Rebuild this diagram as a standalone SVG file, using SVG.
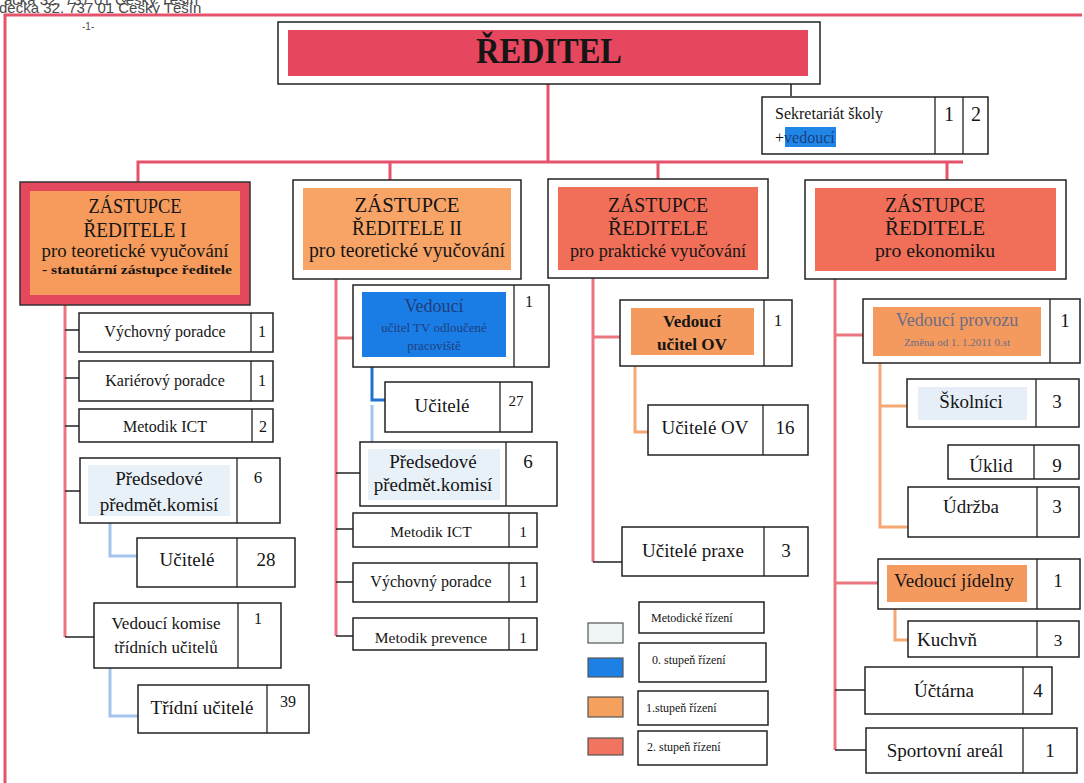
<svg xmlns="http://www.w3.org/2000/svg" width="1084" height="783" viewBox="0 0 1084 783">
<defs>
<style>
.t{font-family:"Liberation Serif","Times New Roman",serif;fill:#151515;text-anchor:middle}
.st{text-anchor:start}
.s{font-family:"Liberation Sans",Arial,sans-serif;fill:#4a4a4a}
.b{fill:#fff;stroke:#222;stroke-width:1.5}
.d{stroke:#222;stroke-width:1.3}
.red{fill:none;stroke:#e4536b;stroke-width:3}
.col{fill:none;stroke:#ec7680;stroke-width:3}
.blk{fill:none;stroke:#222;stroke-width:1.5}
.or{fill:none;stroke:#f5a873;stroke-width:3}
.lb{fill:none;stroke:#a3c5ec;stroke-width:3}
.db{fill:none;stroke:#2072d2;stroke-width:3}
.bt{fill:#1e3f7e}
.gt{fill:#6c6c86}
.n{font-size:17px}
.m{font-size:16px}
.l{font-size:19px}
</style>
</defs>
<rect width="1084" height="783" fill="#fff"/>
<text class="s" x="4" y="5" font-size="15">ačka 32, 737 01 Český Těšín</text>
<text class="s" x="-1" y="13" font-size="15">dečka 32. 737 01 Český Těšín</text>
<text class="s" x="82" y="30" font-size="10">-1-</text>

<g id="connectors">
<polyline class="red" points="5,783 5,15 1082,15"/>
<line class="red" x1="548" y1="84" x2="548" y2="162"/>
<polyline class="red" points="138,182 138,162 963,162"/>
<line class="red" x1="390" y1="162" x2="390" y2="180"/>
<line class="red" x1="658" y1="162" x2="658" y2="179"/>
<line class="red" x1="947" y1="162" x2="947" y2="180"/>
<line class="blk" x1="791" y1="84" x2="791" y2="96"/>
<line class="col" x1="65" y1="305" x2="65" y2="637"/>
<line class="blk" x1="65" y1="330" x2="79" y2="330"/>
<line class="blk" x1="65" y1="378" x2="79" y2="378"/>
<line class="blk" x1="65" y1="426" x2="79" y2="426"/>
<line class="blk" x1="65" y1="491" x2="80" y2="491"/>
<line class="blk" x1="65" y1="637" x2="94" y2="637"/>
<polyline class="lb" points="110,523 110,556 137,556"/>
<polyline class="lb" points="110,668 110,716 138,716"/>
<line class="col" x1="336" y1="279" x2="336" y2="636"/>
<line class="col" x1="336" y1="338" x2="353" y2="338"/>
<line class="blk" x1="336" y1="473" x2="360" y2="473"/>
<line class="blk" x1="336" y1="529" x2="353" y2="529"/>
<line class="blk" x1="336" y1="582" x2="353" y2="582"/>
<line class="blk" x1="336" y1="636" x2="353" y2="636"/>
<polyline class="db" points="372,367 372,400 385,400"/>
<line class="lb" x1="372" y1="405" x2="372" y2="442"/>
<line class="col" x1="593" y1="278" x2="593" y2="562"/>
<line class="col" x1="593" y1="337" x2="620" y2="337"/>
<line class="blk" x1="593" y1="562" x2="622" y2="562"/>
<polyline class="or" points="635,366 635,432 648,432"/>
<line class="col" x1="835" y1="279" x2="835" y2="750"/>
<line class="col" x1="835" y1="335" x2="863" y2="335"/>
<line class="col" x1="835" y1="583" x2="878" y2="583"/>
<line class="blk" x1="835" y1="690" x2="865" y2="690"/>
<line class="blk" x1="835" y1="750" x2="866" y2="750"/>
<polyline class="or" points="880,363 880,527 908,527"/>
<line class="or" x1="880" y1="406" x2="907" y2="406"/>
<polyline class="or" points="895,609 895,640 908,640"/>
</g>

<g id="reditel">
<rect class="b" x="278" y="22" width="542" height="62"/>
<rect x="288" y="30" width="520" height="46" fill="#e6475f"/>
<text class="t" x="549" y="63" font-size="35" font-weight="bold" textLength="146" lengthAdjust="spacingAndGlyphs">ŘEDITEL</text>
</g>

<g id="sekretariat">
<rect class="b" x="762" y="97" width="226" height="57"/>
<line class="d" x1="935" y1="97" x2="935" y2="154"/>
<line class="d" x1="963" y1="97" x2="963" y2="154"/>
<text class="t st" x="775" y="119" font-size="16">Sekretariát školy</text>
<rect x="785" y="127" width="51" height="20" fill="#1f86e8"/>
<text class="t st" x="775" y="143" font-size="16">+<tspan class="bt">vedoucí</tspan></text>
<text class="t" x="949" y="121" font-size="20">1</text>
<text class="t" x="976" y="121" font-size="20">2</text>
</g>

<g id="zastupce1">
<rect x="20" y="182" width="230" height="123" fill="#e3485c" stroke="#333" stroke-width="1.5"/>
<rect x="30" y="191" width="210" height="104" fill="#f69b5b"/>
<text class="t" x="135" y="213" font-size="21" textLength="93" lengthAdjust="spacingAndGlyphs">ZÁSTUPCE</text>
<text class="t" x="135" y="237" font-size="21" textLength="103" lengthAdjust="spacingAndGlyphs">ŘEDITELE I</text>
<text class="t" x="135" y="257" font-size="19" textLength="187" lengthAdjust="spacingAndGlyphs">pro teoretické vyučování</text>
<text class="t" x="137" y="274" font-size="13" font-weight="bold" textLength="190" lengthAdjust="spacingAndGlyphs">- statutární zástupce ředitele</text>
</g>

<g id="zastupce2">
<rect class="b" x="293" y="180" width="228" height="99"/>
<rect x="303" y="188" width="208" height="82" fill="#f8a466"/>
<text class="t" x="407" y="212" font-size="22" textLength="105" lengthAdjust="spacingAndGlyphs">ZÁSTUPCE</text>
<text class="t" x="407" y="235" font-size="22" textLength="110" lengthAdjust="spacingAndGlyphs">ŘEDITELE II</text>
<text class="t" x="407" y="257" font-size="20" textLength="196" lengthAdjust="spacingAndGlyphs">pro teoretické vyučování</text>
</g>

<g id="zastupce3">
<rect class="b" x="548" y="179" width="220" height="99"/>
<rect x="558" y="187" width="200" height="83" fill="#f16f58"/>
<text class="t" x="658" y="212" font-size="21" textLength="100" lengthAdjust="spacingAndGlyphs">ZÁSTUPCE</text>
<text class="t" x="658" y="235" font-size="21" textLength="100" lengthAdjust="spacingAndGlyphs">ŘEDITELE</text>
<text class="t" x="658" y="257" font-size="19" textLength="176" lengthAdjust="spacingAndGlyphs">pro praktické vyučování</text>
</g>

<g id="zastupce4">
<rect class="b" x="805" y="180" width="261" height="99"/>
<rect x="815" y="188" width="241" height="83" fill="#f16f58"/>
<text class="t" x="935" y="212" font-size="21" textLength="100" lengthAdjust="spacingAndGlyphs">ZÁSTUPCE</text>
<text class="t" x="935" y="235" font-size="21" textLength="100" lengthAdjust="spacingAndGlyphs">ŘEDITELE</text>
<text class="t" x="935" y="257" font-size="19" textLength="120" lengthAdjust="spacingAndGlyphs">pro ekonomiku</text>
</g>

<g id="c1-vychovny">
<rect class="b" x="79" y="313" width="194" height="39"/>
<line class="d" x1="251" y1="313" x2="251" y2="352"/>
<text class="t m" x="165" y="337">Výchovný poradce</text>
<text class="t m" x="262" y="337">1</text>
</g>
<g id="c1-karierovy">
<rect class="b" x="79" y="361" width="194" height="40"/>
<line class="d" x1="251" y1="361" x2="251" y2="401"/>
<text class="t m" x="165" y="386">Kariérový poradce</text>
<text class="t m" x="262" y="386">1</text>
</g>
<g id="c1-metodik">
<rect class="b" x="79" y="409" width="194" height="33"/>
<line class="d" x1="252" y1="409" x2="252" y2="442"/>
<text class="t m" x="165" y="432">Metodik ICT</text>
<text class="t m" x="263" y="432">2</text>
</g>
<g id="c1-predsedove">
<rect class="b" x="80" y="458" width="200" height="65"/>
<rect x="88" y="465" width="142" height="51" fill="#e8f1f8"/>
<line class="d" x1="237" y1="458" x2="237" y2="523"/>
<text class="t l" x="159" y="485">Předsedové</text>
<text class="t l" x="159" y="511">předmět.komisí</text>
<text class="t n" x="258" y="483">6</text>
</g>
<g id="c1-ucitele">
<rect class="b" x="137" y="538" width="158" height="49"/>
<line class="d" x1="237" y1="538" x2="237" y2="587"/>
<text class="t l" x="187" y="566">Učitelé</text>
<text class="t l" x="266" y="566">28</text>
</g>
<g id="c1-vedouci-komise">
<rect class="b" x="94" y="603" width="187" height="65"/>
<line class="d" x1="238" y1="603" x2="238" y2="668"/>
<text class="t n" x="166" y="629">Vedoucí komise</text>
<text class="t n" x="166" y="653">třídních učitelů</text>
<text class="t m" x="258" y="624">1</text>
</g>
<g id="c1-tridni">
<rect class="b" x="138" y="685" width="171" height="48"/>
<line class="d" x1="267" y1="685" x2="267" y2="733"/>
<text class="t" x="202" y="714" font-size="19">Třídní učitelé</text>
<text class="t m" x="288" y="707">39</text>
</g>

<g id="c2-vedouci">
<rect class="b" x="353" y="285" width="196" height="82"/>
<rect x="362" y="292" width="144" height="65" fill="#1a7de6"/>
<line class="d" x1="514" y1="285" x2="514" y2="367"/>
<text class="t bt" x="434" y="312" font-size="18">Vedoucí</text>
<text class="t bt" x="434" y="332" font-size="13">učitel TV odloučené</text>
<text class="t bt" x="434" y="350" font-size="13">pracoviště</text>
<text class="t m" x="529" y="307">1</text>
</g>
<g id="c2-ucitele">
<rect class="b" x="385" y="382" width="147" height="50"/>
<line class="d" x1="500" y1="382" x2="500" y2="432"/>
<text class="t l" x="442" y="412">Učitelé</text>
<text class="t" x="516" y="406" font-size="15">27</text>
</g>
<g id="c2-predsedove">
<rect class="b" x="360" y="442" width="197" height="64"/>
<rect x="368" y="449" width="132" height="51" fill="#e8f1f8"/>
<line class="d" x1="506" y1="442" x2="506" y2="506"/>
<text class="t l" x="433" y="468">Předsedové</text>
<text class="t l" x="433" y="491">předmět.komisí</text>
<text class="t l" x="528" y="468">6</text>
</g>
<g id="c2-metodik">
<rect class="b" x="353" y="513" width="184" height="34"/>
<line class="d" x1="509" y1="513" x2="509" y2="547"/>
<text class="t" x="431" y="537" font-size="15.5">Metodik ICT</text>
<text class="t" x="523" y="537" font-size="15.5">1</text>
</g>
<g id="c2-vychovny">
<rect class="b" x="353" y="563" width="184" height="39"/>
<line class="d" x1="509" y1="563" x2="509" y2="602"/>
<text class="t m" x="431" y="587">Výchovný poradce</text>
<text class="t m" x="523" y="587">1</text>
</g>
<g id="c2-prevence">
<rect class="b" x="353" y="618" width="184" height="32"/>
<line class="d" x1="509" y1="618" x2="509" y2="650"/>
<text class="t" x="431" y="643" font-size="15.5">Metodik prevence</text>
<text class="t" x="523" y="643" font-size="15.5">1</text>
</g>

<g id="c3-vedouci">
<rect class="b" x="620" y="300" width="172" height="66"/>
<rect x="631" y="308" width="123" height="47" fill="#f59a5e"/>
<line class="d" x1="764" y1="300" x2="764" y2="366"/>
<text class="t" x="692" y="327" font-size="17" font-weight="bold" textLength="58" lengthAdjust="spacingAndGlyphs">Vedoucí</text>
<text class="t" x="692" y="350" font-size="17" font-weight="bold" textLength="70" lengthAdjust="spacingAndGlyphs">učitel OV</text>
<text class="t n" x="778" y="326">1</text>
</g>
<g id="c3-ucitele-ov">
<rect class="b" x="648" y="405" width="160" height="50"/>
<line class="d" x1="763" y1="405" x2="763" y2="455"/>
<text class="t l" x="705" y="434">Učitelé OV</text>
<text class="t l" x="785" y="434">16</text>
</g>
<g id="c3-praxe">
<rect class="b" x="622" y="527" width="186" height="49"/>
<line class="d" x1="764" y1="527" x2="764" y2="576"/>
<text class="t l" x="693" y="557">Učitelé praxe</text>
<text class="t l" x="786" y="557">3</text>
</g>

<g id="c4-provoz">
<rect class="b" x="863" y="299" width="217" height="64"/>
<rect x="873" y="307" width="168" height="49" fill="#f59a5e"/>
<line class="d" x1="1050" y1="299" x2="1050" y2="363"/>
<text class="t gt" x="957" y="326" font-size="18">Vedoucí provozu</text>
<text class="t gt" x="957" y="346" font-size="11">Změna od 1. 1.2011 0.st</text>
<text class="t l" x="1065" y="327">1</text>
</g>
<g id="c4-skolnici">
<rect class="b" x="907" y="379" width="172" height="48"/>
<rect x="918" y="387" width="109" height="33" fill="#e6eff7"/>
<line class="d" x1="1036" y1="379" x2="1036" y2="427"/>
<text class="t l" x="971" y="408">Školníci</text>
<text class="t l" x="1057" y="408">3</text>
</g>
<g id="c4-uklid">
<rect class="b" x="948" y="445" width="131" height="34"/>
<line class="d" x1="1034" y1="445" x2="1034" y2="479"/>
<text class="t l" x="991" y="472">Úklid</text>
<text class="t l" x="1057" y="472">9</text>
</g>
<g id="c4-udrzba">
<rect class="b" x="908" y="487" width="171" height="50"/>
<line class="d" x1="1037" y1="487" x2="1037" y2="537"/>
<text class="t l" x="971" y="513">Údržba</text>
<text class="t l" x="1057" y="513">3</text>
</g>
<g id="c4-jidelna">
<rect class="b" x="878" y="559" width="202" height="50"/>
<rect x="887" y="565" width="140" height="37" fill="#f59a5e"/>
<line class="d" x1="1037" y1="559" x2="1037" y2="609"/>
<text class="t l" x="954" y="587">Vedoucí jídelny</text>
<text class="t l" x="1058" y="587">1</text>
</g>
<g id="c4-kuchyn">
<rect class="b" x="908" y="621" width="171" height="36"/>
<line class="d" x1="1037" y1="621" x2="1037" y2="657"/>
<text class="t l" x="947" y="646">Kuchvň</text>
<text class="t" x="1058" y="646" font-size="17">3</text>
</g>
<g id="c4-uctarna">
<rect class="b" x="865" y="667" width="187" height="47"/>
<line class="d" x1="1023" y1="667" x2="1023" y2="714"/>
<text class="t l" x="944" y="697">Účtárna</text>
<text class="t l" x="1038" y="697">4</text>
</g>
<g id="c4-sport">
<rect class="b" x="866" y="728" width="211" height="45"/>
<line class="d" x1="1023" y1="728" x2="1023" y2="773"/>
<text class="t l" x="945" y="757">Sportovní areál</text>
<text class="t l" x="1050" y="757">1</text>
</g>

<g id="legend">
<rect x="588" y="623" width="35" height="20" fill="#eef5f4" stroke="#555" stroke-width="1.2"/>
<rect x="588" y="658" width="35" height="19" fill="#1c80e4" stroke="#555" stroke-width="1.2"/>
<rect x="588" y="697" width="35" height="20" fill="#f5a05c" stroke="#555" stroke-width="1.2"/>
<rect x="588" y="738" width="35" height="17" fill="#f07460" stroke="#555" stroke-width="1.2"/>
<rect class="b" x="639" y="602" width="125" height="31"/>
<rect class="b" x="639" y="643" width="127" height="39"/>
<rect class="b" x="638" y="691" width="130" height="34"/>
<rect class="b" x="638" y="731" width="129" height="34"/>
<text class="t st" x="651" y="622" font-size="12">Metodické řízení</text>
<text class="t st" x="652" y="664" font-size="12">0. stupeň řízení</text>
<text class="t st" x="646" y="712" font-size="12">1.stupeň řízení</text>
<text class="t st" x="647" y="751" font-size="12">2. stupeň řízení</text>
</g>
</svg>
